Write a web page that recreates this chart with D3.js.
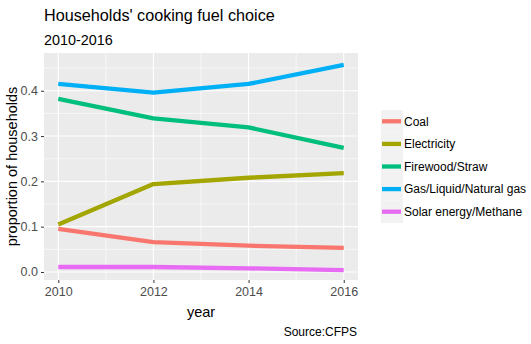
<!DOCTYPE html>
<html>
<head>
<meta charset="utf-8">
<script src="https://cdn.jsdelivr.net/npm/d3@7"></script>
<style>
  body { margin: 0; background: #fff; }
  svg { display: block; font-family: "Liberation Sans", Arial, sans-serif; }
</style>
</head>
<body>
<div id="chart"></div>
<script>
// cooking fuel shares by survey year
const years = [2010, 2012, 2014, 2016];
const fuels = ['Coal', 'Electricity', 'Firewood/Straw', 'Gas/Liquid/Natural gas', 'Solar energy/Methane'];
const coal = [0.095, 0.066, 0.058, 0.053];
const electricity = [0.105, 0.194, 0.208, 0.218];
const firewood = [0.382, 0.339, 0.319, 0.274];
const gas = [0.415, 0.396, 0.415, 0.457];
const solar = [0.011, 0.011, 0.008, 0.004];
const yTicks = [0, 0.1, 0.2, 0.3, 0.4];
const xTicks = [2010, 2012, 2014, 2016];

const seriesValues = [coal, electricity, firewood, gas, solar];
const colors = ['#F8766D', '#A3A500', '#00BF7D', '#00B0F6', '#E76BF3'];

const width = 531, height = 344;
const panel = {left: 44, right: 358, top: 53, bottom: 280};

const svg = d3.select('#chart').append('svg')
  .attr('width', width)
  .attr('height', height);

const x = d3.scaleLinear().domain([2009.7, 2016.3]).range([panel.left, panel.right]);
const y = d3.scaleLinear().domain([-0.0177, 0.4833]).range([panel.bottom, panel.top]);

// grey panel
svg.append('rect')
  .attr('x', panel.left).attr('y', panel.top)
  .attr('width', panel.right - panel.left)
  .attr('height', panel.bottom - panel.top)
  .attr('fill', '#EBEBEB');

// minor grid
const minorX = [2011, 2013, 2015];
const minorY = [0.05, 0.15, 0.25, 0.35, 0.45];
svg.append('g').selectAll('line').data(minorX).join('line')
  .attr('x1', d => x(d)).attr('x2', d => x(d))
  .attr('y1', panel.top).attr('y2', panel.bottom)
  .attr('stroke', '#fff').attr('stroke-width', 0.6);
svg.append('g').selectAll('line').data(minorY).join('line')
  .attr('x1', panel.left).attr('x2', panel.right)
  .attr('y1', d => y(d)).attr('y2', d => y(d))
  .attr('stroke', '#fff').attr('stroke-width', 0.6);

// major grid
svg.append('g').selectAll('line').data(xTicks).join('line')
  .attr('x1', d => x(d)).attr('x2', d => x(d))
  .attr('y1', panel.top).attr('y2', panel.bottom)
  .attr('stroke', '#fff').attr('stroke-width', 1.1);
svg.append('g').selectAll('line').data(yTicks).join('line')
  .attr('x1', panel.left).attr('x2', panel.right)
  .attr('y1', d => y(d)).attr('y2', d => y(d))
  .attr('stroke', '#fff').attr('stroke-width', 1.1);

// axes
const xAxis = svg.append('g')
  .attr('transform', `translate(0,${panel.bottom})`)
  .call(d3.axisBottom(x).tickValues(xTicks).tickFormat(d3.format('d')).tickSize(3).tickPadding(4));
const yAxis = svg.append('g')
  .attr('transform', `translate(${panel.left},0)`)
  .call(d3.axisLeft(y).tickValues(yTicks).tickFormat(d3.format('.1f')).tickSize(3).tickPadding(3));
[xAxis, yAxis].forEach(a => {
  a.select('.domain').remove();
  a.selectAll('.tick line').attr('stroke', '#333').attr('stroke-width', 1);
  a.selectAll('.tick text')
    .attr('fill', '#4D4D4D')
    .style('font-size', '12.5px')
    .style('font-family', '"Liberation Sans", Arial, sans-serif');
});

// lines
const line = d3.line()
  .x((d, i) => x(years[i]))
  .y(d => y(d));

svg.append('g').selectAll('path').data(seriesValues).join('path')
  .attr('d', line)
  .attr('fill', 'none')
  .attr('stroke', (d, i) => colors[i])
  .attr('stroke-width', 4.3)
  .attr('stroke-linejoin', 'round');

// titles
svg.append('text')
  .attr('x', 44).attr('y', 21)
  .attr('font-size', 16.2)
  .attr('fill', '#000')
  .text("Households' cooking fuel choice");
svg.append('text')
  .attr('x', 44).attr('y', 44.5)
  .attr('font-size', 14.4)
  .attr('fill', '#000')
  .text('2010-2016');

svg.append('text')
  .attr('x', (panel.left + panel.right) / 2).attr('y', 317)
  .attr('text-anchor', 'middle')
  .attr('font-size', 14.5)
  .text('year');
svg.append('text')
  .attr('transform', `translate(17,${(panel.top + panel.bottom) / 2}) rotate(-90)`)
  .attr('text-anchor', 'middle')
  .attr('font-size', 14.5)
  .text('proportion of households');

svg.append('text')
  .attr('x', 357).attr('y', 336)
  .attr('text-anchor', 'end')
  .attr('font-size', 12)
  .text('Source:CFPS');

// legend
const keyW = 22, keyH = 22.6;
const legend = svg.append('g').attr('transform', 'translate(381,110)');
const item = legend.selectAll('g').data(fuels).join('g')
  .attr('transform', (d, i) => `translate(0,${i * keyH})`);
item.append('rect')
  .attr('width', keyW).attr('height', keyH)
  .attr('fill', '#F2F2F2');
item.append('line')
  .attr('x1', 1).attr('x2', keyW - 2)
  .attr('y1', keyH / 2).attr('y2', keyH / 2)
  .attr('stroke', (d, i) => colors[i])
  .attr('stroke-width', 4.3);
item.append('text')
  .attr('x', keyW + 1).attr('y', keyH / 2)
  .attr('dy', '0.35em')
  .attr('font-size', 12)
  .text(d => d);
</script>
</body>
</html>
